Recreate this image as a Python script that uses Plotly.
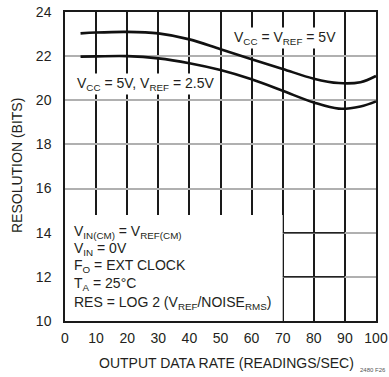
import plotly.graph_objects as go

rate = [5, 10, 20, 30, 40, 50, 60, 70, 80, 88, 95, 100]
res_5v = [23.03, 23.07, 23.1, 23.03, 22.76, 22.31, 21.86, 21.42, 20.98, 20.78, 20.82, 21.1]
res_25v = [21.98, 21.99, 22.0, 21.9, 21.68, 21.37, 20.95, 20.43, 19.9, 19.62, 19.72, 19.95]
x_ticks = [0, 10, 20, 30, 40, 50, 60, 70, 80, 90, 100]
y_ticks = [10, 12, 14, 16, 18, 20, 22, 24]

FONT = "Liberation Sans, Arial"
TXT = "#231f20"

fig = go.Figure()
for ys in (res_5v, res_25v):
    fig.add_trace(go.Scatter(x=rate, y=ys, mode="lines",
                             line=dict(color="#111111", width=2.6, shape="spline", smoothing=1.0),
                             hoverinfo="skip", showlegend=False))

shapes = [
    dict(type="rect", xref="x", yref="y", x0=0, x1=70, y0=10, y1=14.8,
         fillcolor="white", line=dict(width=0), layer="between"),
    dict(type="line", xref="x", yref="y", x0=70, x1=90, y0=14, y1=14,
         line=dict(color="#222222", width=1.5), layer="between"),
    dict(type="line", xref="x", yref="y", x0=70, x1=90, y0=12, y1=12,
         line=dict(color="#222222", width=1.5), layer="between"),
]

ann = []
ann.append(dict(x=285, y=38, text="V<sub>CC</sub> = V<sub>REF</sub> = 5V",
                xanchor="center", yanchor="middle", showarrow=False, bgcolor="white",
                font=dict(size=14, color=TXT, family=FONT)))
ann.append(dict(x=145, y=84, text="V<sub>CC</sub> = 5V, V<sub>REF</sub> = 2.5V",
                xanchor="center", yanchor="middle", showarrow=False, bgcolor="white",
                font=dict(size=14, color=TXT, family=FONT)))
lines = [
    ("V<sub>IN(CM)</sub> = V<sub>REF(CM)</sub>", 232),
    ("V<sub>IN</sub> = 0V", 249),
    ("F<sub>O</sub> = EXT CLOCK", 266),
    ("T<sub>A</sub> = 25°C", 284),
    ("RES = LOG 2 (V<sub>REF</sub>/NOISE<sub>RMS</sub>)", 303),
]
for t, yp in lines:
    ann.append(dict(x=72, y=yp, text=t, xanchor="left", yanchor="middle",
                    showarrow=False, font=dict(size=14, color=TXT, family=FONT)))
ann.append(dict(x=226, y=363, text="OUTPUT DATA RATE (READINGS/SEC)", xanchor="center",
                yanchor="middle", showarrow=False, font=dict(size=14, color=TXT, family=FONT)))
ann.append(dict(x=17, y=165, text="RESOLUTION (BITS)", xanchor="center", yanchor="middle",
                textangle=-90, showarrow=False, font=dict(size=14, color=TXT, family=FONT)))
ann.append(dict(x=388, y=370, text="2480 F26", xanchor="right", yanchor="middle",
                showarrow=False, font=dict(size=6, color="#555555", family=FONT)))

# convert pixel positions to paper coords
L, R, T, B = 65, 13, 12, 56
W, H = 389, 377
pw, ph = W - L - R, H - T - B
for a in ann:
    px, py = a["x"], a["y"]
    a["x"] = (px - L) / pw
    a["y"] = 1 - (py - T) / ph
    a["xref"] = "paper"
    a["yref"] = "paper"

fig.update_layout(
    width=W, height=H,
    margin=dict(l=L, r=R, t=T, b=B, pad=0, autoexpand=False),
    plot_bgcolor="white", paper_bgcolor="white",
    shapes=shapes, annotations=ann,
    font=dict(family=FONT, color=TXT, size=14),
    xaxis=dict(range=[0, 100], tickvals=x_ticks, showgrid=True, gridcolor="#1a1a1a", gridwidth=1.5,
               zeroline=False, showline=True, linecolor="#1a1a1a", linewidth=1.5, mirror=True,
               ticks="", ticklabelstandoff=3, automargin=False,
               tickfont=dict(size=14, family=FONT, color=TXT)),
    yaxis=dict(range=[10, 24], tickvals=y_ticks, showgrid=True, gridcolor="#b0b0b0", gridwidth=1.5,
               zeroline=False, showline=True, linecolor="#1a1a1a", linewidth=1.5, mirror=True,
               ticks="", ticklabelstandoff=9, automargin=False,
               tickfont=dict(size=14, family=FONT, color=TXT)),
)

fig.write_html("out.html", config={"displayModeBar": False},
               post_script="document.body.style.margin='0';document.body.style.overflow='hidden';")
